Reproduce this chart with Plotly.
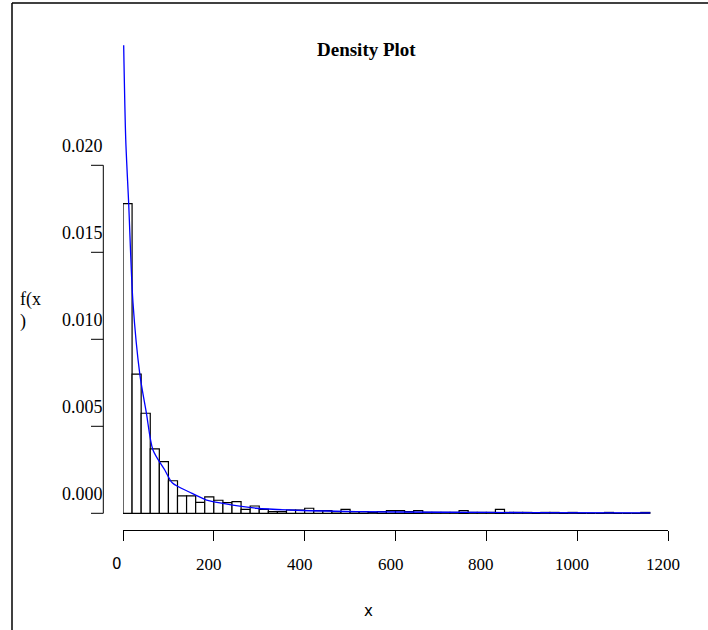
import plotly.graph_objects as go

# ---------------- data ----------------
BIN_WIDTH = 20
BIN_LEFT = list(range(0, 1160, BIN_WIDTH))          # 58 bins, 0..1160
DENSITY = [
    0.0178, 0.0080, 0.00575, 0.0037, 0.00297, 0.00187, 0.0010, 0.0010,
    0.00063, 0.00094, 0.00075, 0.00061, 0.00067, 0.00023, 0.00042, 0.00023,
    0.0001, 0.0001, 0.00019, 0.00019, 0.00029, 0.00015, 0.00015, 0.0001,
    0.00023, 0.0001, 0.0001, 0.00005, 0.0001, 0.00015, 0.00015, 0.0001,
    0.00015, 0.00005, 0.00005, 0.00005, 0.00005, 0.00015, 0.00005, 0.00005,
    0.00005, 0.00023, 0.00005, 0.00005, 0.00005, 0.0, 0.00005, 0.00005,
    0.0, 0.00005, 0.0, 0.0, 0.0, 0.00005, 0.0, 0.0, 0.0, 0.00005,
]
CURVE_X = [1.5, 6, 12.5, 22, 37, 51.5, 66, 92, 109, 147, 184, 220, 294, 367, 514, 700, 900, 1161]
CURVE_Y = [0.0269, 0.0215, 0.0178, 0.0121, 0.0080, 0.00576, 0.00364, 0.00249, 0.00174,
           0.00121, 0.00076, 0.00057, 0.00029, 0.00019, 0.0001, 0.00006, 0.00004, 0.00002]
XTICKS = [0, 200, 400, 600, 800, 1000, 1200]
XTICK_TEXT = ["0", "200", "400", "600", "800", "1000", "1200"]
YTICKS = [0.0, 0.005, 0.010, 0.015, 0.020]
YTICK_TEXT = ["0.000", "0.005", "0.010", "0.015", "0.020"]
TITLE = "Density Plot"
XLABEL = "x"
YLABEL_LINES = ["f(x", ")"]

# ---------------- layout geometry (pixels) ----------------
W, H = 708, 630
ML, MR, MT, MB = 123, 40, 40, 100
PW, PH = W - ML - MR, H - MT - MB
Y0_PX = 513.3            # pixel row of density 0
PX_PER_UNIT_Y = 17400.0
YMIN = -(MT + PH - Y0_PX) / PX_PER_UNIT_Y
YMAX = (Y0_PX - MT) / PX_PER_UNIT_Y


def px_x(px):
    return (px - ML) / PW


def px_y(py):
    return (H - MB - py) / PH


SERIF = "Liberation Serif, Times New Roman, serif"
SANS = "DejaVu Sans, Arial, sans-serif"

centers = [b + BIN_WIDTH / 2 for b in BIN_LEFT]

fig = go.Figure()
fig.add_trace(go.Bar(
    x=centers, y=DENSITY, width=BIN_WIDTH,
    marker=dict(color="white", line=dict(color="black", width=1.2)),
    hoverinfo="skip", showlegend=False,
))
fig.add_trace(go.Scatter(
    x=CURVE_X, y=CURVE_Y, mode="lines",
    line=dict(color="#0000FF", width=1.3, shape="spline", smoothing=0.8),
    hoverinfo="skip", showlegend=False,
))

shapes = []
# y axis line (only spans the tick range) and ticks
yax_px = 103.3
shapes.append(dict(type="line", xref="paper", yref="y",
                   x0=px_x(yax_px), x1=px_x(yax_px), y0=YTICKS[0], y1=YTICKS[-1],
                   line=dict(color="black", width=1)))
for v in YTICKS:
    shapes.append(dict(type="line", xref="paper", yref="y",
                       x0=px_x(91), x1=px_x(yax_px), y0=v, y1=v,
                       line=dict(color="black", width=1)))
# outer frame (left and top)
shapes.append(dict(type="line", xref="paper", yref="paper",
                   x0=px_x(12), x1=px_x(12), y0=px_y(3), y1=px_y(H + 5),
                   line=dict(color="black", width=1.5)))
shapes.append(dict(type="line", xref="paper", yref="paper",
                   x0=px_x(12), x1=px_x(W + 5), y0=px_y(3), y1=px_y(3),
                   line=dict(color="black", width=1.5)))

ann = []
ann.append(dict(text="<b>%s</b>" % TITLE, xref="paper", yref="paper",
                x=px_x(366), y=px_y(49), xanchor="center", yanchor="middle",
                showarrow=False, font=dict(family=SERIF, size=19, color="black")))
for v, t in zip(YTICKS, YTICK_TEXT):
    ann.append(dict(text=t, xref="paper", yref="y", x=px_x(105), y=v,
                    xanchor="right", yanchor="middle", yshift=19, showarrow=False,
                    font=dict(family=SERIF, size=18, color="black")))
for v, t in zip(XTICKS, XTICK_TEXT):
    fam = SANS if t == "0" else SERIF
    ann.append(dict(text=t, xref="x", yref="paper", x=v, y=px_y(564),
                    xanchor="center", yanchor="middle", xshift=-6 if t == "0" else -5,
                    showarrow=False, font=dict(family=fam, size=17 if t != "0" else 15, color="black")))
ann.append(dict(text=XLABEL, xref="paper", yref="paper", x=px_x(368), y=px_y(611),
                xanchor="center", yanchor="middle",
                showarrow=False, font=dict(family=SANS, size=15, color="black")))
ann.append(dict(text=YLABEL_LINES[0], xref="paper", yref="paper", x=px_x(18), y=px_y(299),
                xanchor="left", yanchor="middle",
                showarrow=False, font=dict(family=SERIF, size=18, color="black")))
ann.append(dict(text=YLABEL_LINES[1], xref="paper", yref="paper", x=px_x(18), y=px_y(321),
                xanchor="left", yanchor="middle",
                showarrow=False, font=dict(family=SERIF, size=18, color="black")))

fig.update_layout(
    width=W, height=H,
    margin=dict(l=ML, r=MR, t=MT, b=MB, pad=0),
    paper_bgcolor="white", plot_bgcolor="white",
    showlegend=False,
    xaxis=dict(range=[0, 1200], tickvals=XTICKS, showticklabels=False,
               ticks="outside", ticklen=10, tickcolor="black", tickwidth=1,
               showline=True, linecolor="black", linewidth=1,
               showgrid=False, zeroline=False, fixedrange=True),
    yaxis=dict(range=[YMIN, YMAX], visible=False, showgrid=False, zeroline=False,
               fixedrange=True),
    shapes=shapes, annotations=ann,
)

fig.write_html(
    "out.html",
    config={"displayModeBar": False, "staticPlot": True},
    post_script="document.body.style.margin='0';document.body.style.overflow='hidden';",
)
